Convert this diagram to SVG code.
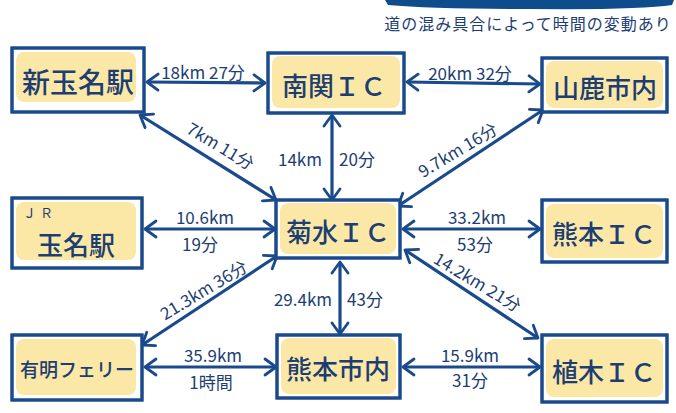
<svg xmlns="http://www.w3.org/2000/svg" width="676" height="413" viewBox="0 0 676 413">
<defs>
<style>
.box{fill:#ffffff;stroke:#1b4a8c;stroke-width:3;}
.hl{fill:#fce8a6;}
.nt{font-family:"Noto Sans CJK JP","Noto Sans",sans-serif;font-size:26px;font-weight:500;fill:#1c3e72;text-anchor:middle;dominant-baseline:central;}
.lb{font-family:"Noto Sans CJK JP","Noto Sans",sans-serif;font-size:17px;fill:#1c3e72;text-anchor:middle;dominant-baseline:central;}
.ln{stroke:#1b4a8c;stroke-width:3.2;fill:none;marker-start:url(#ah);marker-end:url(#ah);}
</style>
<marker id="ah" markerUnits="userSpaceOnUse" markerWidth="16" markerHeight="20" refX="13" refY="10" orient="auto-start-reverse">
<path d="M2,2 L13,10 L2,18" fill="none" stroke="#1b4a8c" stroke-width="2.8" stroke-linecap="round" stroke-linejoin="round"/>
</marker>
</defs>
<rect width="676" height="413" fill="#ffffff"/>
<path d="M385,0 L674,0 L672,5 Q640,10 530,9 Q430,9 388,5 Z" fill="#0f4c8c"/>
<text x="528" y="23" style="font-family:'Noto Sans CJK JP',sans-serif;font-size:16px;fill:#1c3e72;text-anchor:middle;dominant-baseline:central;letter-spacing:1px">道の混み具合によって時間の変動あり</text>

<g id="connectors">
<line class="ln" x1="147" y1="82" x2="265" y2="83"/>
<text class="lb" x="203" y="71">18km 27分</text>
<line class="ln" x1="407" y1="82" x2="540" y2="84"/>
<text class="lb" x="470" y="72">20km 32分</text>
<line class="ln" x1="140" y1="115" x2="276" y2="200"/>
<text class="lb" transform="translate(221,145) rotate(31)">7km 11分</text>
<line class="ln" x1="332" y1="115" x2="332" y2="200"/>
<text class="lb" x="300" y="158">14km</text>
<text class="lb" x="357" y="158">20分</text>
<line class="ln" x1="543" y1="110" x2="398" y2="206"/>
<text class="lb" transform="translate(457,149) rotate(-31)">9.7km 16分</text>
<line class="ln" x1="145" y1="229" x2="275" y2="229"/>
<text class="lb" x="205" y="216">10.6km</text>
<text class="lb" x="200" y="243">19分</text>
<line class="ln" x1="403" y1="229" x2="540" y2="229"/>
<text class="lb" x="477" y="216">33.2km</text>
<text class="lb" x="475" y="243">53分</text>
<line class="ln" x1="277" y1="256" x2="142" y2="345"/>
<text class="lb" transform="translate(203,289) rotate(-31)">21.3km 36分</text>
<line class="ln" x1="340" y1="262" x2="340" y2="334"/>
<text class="lb" x="303" y="298">29.4km</text>
<text class="lb" x="365" y="298">43分</text>
<line class="ln" x1="405" y1="250" x2="538" y2="338"/>
<text class="lb" transform="translate(478,281) rotate(31)">14.2km 21分</text>
<line class="ln" x1="145" y1="367" x2="276" y2="367"/>
<text class="lb" x="213" y="354">35.9km</text>
<text class="lb" x="211" y="381">1時間</text>
<line class="ln" x1="403" y1="367" x2="540" y2="367"/>
<text class="lb" x="470" y="354">15.9km</text>
<text class="lb" x="470" y="379">31分</text>
</g>

<g id="shin-tamana">
<rect class="box" x="12" y="48" width="132" height="64"/>
<rect class="hl" x="16" y="52" width="120" height="50" rx="8"/>
<rect x="12" y="48" width="132" height="64" fill="none" stroke="#1b4a8c" stroke-width="3"/>
<text class="nt" x="78" y="81" style="font-size:28px">新玉名駅</text>
</g>
<g id="nankan-ic">
<rect class="box" x="268" y="53" width="136" height="60"/>
<rect class="hl" x="272" y="56" width="128" height="52" rx="8"/>
<rect x="268" y="53" width="136" height="60" fill="none" stroke="#1b4a8c" stroke-width="3"/>
<text class="nt" x="334" y="84">南関ＩＣ</text>
</g>
<g id="yamaga">
<rect class="box" x="542" y="58" width="125" height="54"/>
<rect class="hl" x="546" y="61" width="117" height="47" rx="8"/>
<rect x="542" y="58" width="125" height="54" fill="none" stroke="#1b4a8c" stroke-width="3"/>
<text class="nt" x="605" y="86">山鹿市内</text>
</g>
<g id="jr-tamana">
<rect class="box" x="12" y="198" width="130" height="70"/>
<rect class="hl" x="16" y="202" width="120" height="58" rx="8"/>
<rect x="12" y="198" width="130" height="70" fill="none" stroke="#1b4a8c" stroke-width="3"/>
<text class="lb" x="40" y="212" style="font-size:13px;letter-spacing:4px">ＪＲ</text>
<text class="nt" x="76" y="243">玉名駅</text>
</g>
<g id="kikusui-ic">
<rect class="box" x="276" y="200" width="124" height="58"/>
<rect class="hl" x="280" y="203" width="116" height="51" rx="8"/>
<rect x="276" y="200" width="124" height="58" fill="none" stroke="#1b4a8c" stroke-width="3"/>
<text class="nt" x="338" y="230">菊水ＩＣ</text>
</g>
<g id="kumamoto-ic">
<rect class="box" x="542" y="200" width="125" height="62"/>
<rect class="hl" x="546" y="204" width="117" height="54" rx="8"/>
<rect x="542" y="200" width="125" height="62" fill="none" stroke="#1b4a8c" stroke-width="3"/>
<text class="nt" x="604" y="232">熊本ＩＣ</text>
</g>
<g id="ariake-ferry">
<rect class="box" x="12" y="335" width="130" height="65"/>
<rect class="hl" x="16" y="339" width="120" height="56" rx="8"/>
<rect x="12" y="335" width="130" height="65" fill="none" stroke="#1b4a8c" stroke-width="3"/>
<text class="nt" x="77" y="368" style="font-size:19px">有明フェリー</text>
</g>
<g id="kumamoto-city">
<rect class="box" x="277" y="335" width="123" height="63"/>
<rect class="hl" x="281" y="338" width="115" height="56" rx="8"/>
<rect x="277" y="335" width="123" height="63" fill="none" stroke="#1b4a8c" stroke-width="3"/>
<text class="nt" x="338" y="367">熊本市内</text>
</g>
<g id="ueki-ic">
<rect class="box" x="542" y="335" width="125" height="67"/>
<rect class="hl" x="546" y="339" width="117" height="58" rx="8"/>
<rect x="542" y="335" width="125" height="67" fill="none" stroke="#1b4a8c" stroke-width="3"/>
<text class="nt" x="604" y="370">植木ＩＣ</text>
</g>
</svg>
